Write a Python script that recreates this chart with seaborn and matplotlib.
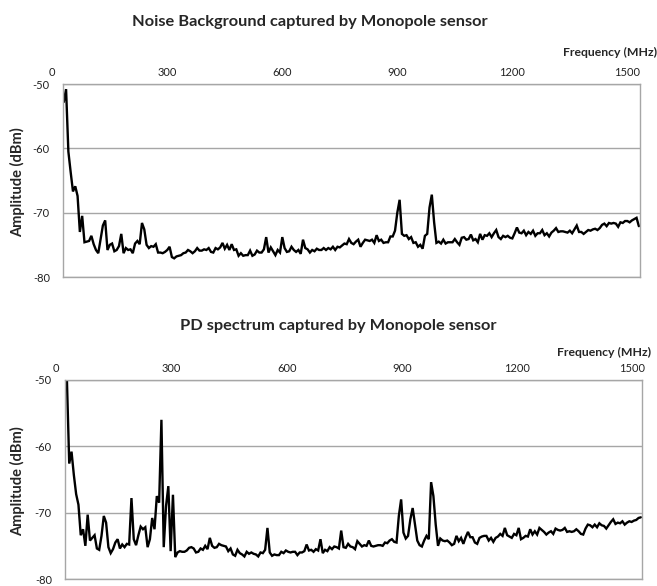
import numpy as np
import pandas as pd
import matplotlib
matplotlib.use("Agg")
import matplotlib.pyplot as plt
import matplotlib.transforms as mtransforms
import seaborn as sns

# Sweep settings (MHz)
noise_start_mhz = 30
pd_start_mhz = 28
step_mhz = 6

# Noise background sweep, amplitude in dBm
noise_dbm = [
    -52.8, -50.8, -60.5, -63.7, -66.7, -65.9, -67.4, -73.0, -70.5, -74.6,
    -74.5, -74.4, -73.6, -74.9, -75.8, -76.3, -74.2, -72.0, -71.2, -75.8,
    -75.0, -74.8, -76.0, -75.8, -75.2, -73.3, -76.3, -75.5, -75.8, -75.7,
    -76.3, -74.8, -74.4, -74.9, -71.6, -72.6, -75.0, -75.5, -75.2, -75.3,
    -74.9, -76.2, -76.2, -76.3, -76.1, -75.8, -75.3, -76.9, -77.1, -76.8,
    -76.7, -76.6, -76.3, -76.2, -75.8, -76.0, -76.3, -76.0, -75.5, -75.9,
    -75.9, -75.7, -75.8, -75.5, -76.1, -76.2, -75.5, -75.7, -75.4, -74.7,
    -75.6, -75.0, -75.8, -74.9, -75.8, -75.7, -76.7, -76.3, -76.7, -76.6,
    -76.6, -75.9, -76.7, -76.5, -75.9, -76.2,
    -76.2, -75.7, -73.8, -76.2, -75.4, -76.0, -76.6, -75.8, -76.2, -73.8,
    -75.5, -76.1, -76.0, -75.3, -75.8, -76.1, -75.8, -76.4, -74.2, -75.5,
    -75.7, -76.2, -75.8, -76.0, -75.6, -75.8, -75.8, -75.5, -75.8, -75.5,
    -75.7, -75.3, -75.8, -75.3, -75.4, -75.1, -74.8, -74.9, -74.1, -74.7,
    -74.9, -74.5, -74.2, -75.3, -74.7, -74.2, -74.3, -74.4, -74.2, -74.7,
    -73.5, -74.4, -74.2, -74.7, -74.6, -74.6, -73.7, -73.7, -72.8, -70.0,
    -68.0, -73.3, -73.6, -73.5, -74.1, -73.8, -74.7, -74.6, -75.3, -75.0,
    -75.6, -73.6, -73.3, -69.2, -67.2, -71.5, -74.7, -74.5, -74.8, -74.2,
    -74.8, -74.6, -74.6, -74.6,
    -74.1, -74.6, -75.0, -73.9, -73.8, -74.2, -74.1, -73.4, -74.3, -74.1,
    -74.6, -73.3, -74.2, -73.5, -73.6, -73.2, -73.8, -73.2, -72.7, -73.8,
    -74.1, -73.6, -73.8, -73.6, -73.9, -74.0, -73.2, -72.3, -73.1, -73.2,
    -72.8, -73.5, -73.0, -73.3, -72.8, -73.6, -73.2, -73.2, -72.7, -73.5,
    -73.2, -73.7, -73.1, -72.8, -72.4, -73.0, -72.9, -72.9, -73.0, -73.1,
    -72.8, -73.2, -72.6, -72.0, -73.0, -73.0, -73.3, -73.0, -72.7, -72.8,
    -72.6, -72.5, -72.7, -72.4, -71.9, -71.7, -72.1, -71.6, -71.7, -71.6,
    -71.7, -72.2, -71.5, -71.6, -71.3, -71.3, -71.5, -71.2, -71.0, -70.8,
    -72.1,
]

# PD spectrum sweep, amplitude in dBm
pd_dbm = [
    -50.0, -62.6, -60.8, -64.3, -67.2, -68.8, -73.4, -72.5, -75.0, -70.3,
    -74.2, -73.8, -73.4, -75.4, -75.6, -73.5, -70.5, -71.5, -75.2, -76.1,
    -75.5, -74.5, -74.0, -75.4, -74.8, -75.2, -74.7, -74.8, -67.8, -74.0,
    -74.9, -73.4, -72.1, -72.5, -72.2, -75.2, -74.0, -70.8, -72.5, -67.5,
    -68.5, -56.0, -75.2, -69.0, -66.0, -75.8, -67.3, -76.7, -76.0, -75.8,
    -75.9, -75.9, -75.7, -75.3, -75.2, -75.4, -76.0, -75.9, -75.4, -75.6,
    -75.0, -75.5, -73.8, -75.0, -75.3, -75.2, -74.7, -74.9, -75.0, -75.1,
    -75.8, -75.4, -76.3, -76.5, -75.6, -76.1, -76.3, -76.6, -75.9, -76.2,
    -76.0, -76.2, -76.3, -76.6,
    -76.0, -76.1, -75.6, -72.3, -76.0, -76.5, -76.3, -76.4, -76.4, -75.9,
    -76.1, -75.7, -75.9, -76.0, -75.9, -75.9, -76.4, -76.0, -76.0, -75.8,
    -74.8, -75.7, -75.6, -75.9, -75.5, -75.7, -74.0, -76.1, -75.6, -75.8,
    -75.2, -75.5, -75.1, -75.2, -75.4, -72.7, -75.2, -75.3, -74.7, -75.1,
    -75.2, -75.5, -74.3, -74.7, -75.1, -74.9, -75.0, -74.2, -75.0, -75.1,
    -75.0, -74.9, -74.9, -75.0, -74.5, -74.6, -74.2, -74.0, -74.4, -74.5,
    -70.5, -68.0, -73.0, -73.9, -73.5, -71.0, -69.3, -71.8, -74.2, -74.9,
    -75.1, -74.2, -73.5, -74.0, -65.4, -67.5, -71.8, -75.0, -73.9, -74.2,
    -74.3, -74.2, -74.5, -74.9, -74.7,
    -73.5, -74.3, -73.8, -74.7, -73.7, -72.9, -73.7, -73.7, -74.5, -74.7,
    -73.8, -73.6, -73.5, -73.5, -74.2, -73.8, -74.4, -73.8, -73.6, -73.2,
    -73.5, -72.3, -73.4, -73.6, -73.8, -73.2, -73.4, -72.3, -74.0, -73.8,
    -73.5, -73.6, -72.5, -73.3, -72.8, -73.3, -72.3, -72.6, -72.9, -73.3,
    -73.0, -72.8, -73.2, -72.4, -72.6, -72.7, -72.6, -72.3, -72.9, -72.8,
    -72.9, -72.8, -72.5, -72.8, -73.2, -73.3, -72.4, -71.8, -71.9, -72.2,
    -71.8, -72.2, -71.6, -71.9, -72.0, -72.4, -71.9, -71.4, -71.0, -71.7,
    -71.5, -71.6, -71.3, -71.8, -71.5, -71.3, -71.4, -71.2, -71.1, -70.8,
    -70.7,
]

freq_ticks = [0, 300, 600, 900, 1200, 1500]
amp_ticks = [-50, -60, -70, -80]

titles = ["Noise Background captured by Monopole sensor",
          "PD spectrum captured by Monopole sensor"]
x_label = "Frequency (MHz)"
y_label = "Amplitude (dBm)"

sns.set_theme(style="white")
plt.rcParams["font.family"] = ["Lato", "DejaVu Sans"]
plt.rcParams["axes.unicode_minus"] = False

W, H = 657, 586
fig = plt.figure(figsize=(W / 100, H / 100), dpi=100)


def fx(px):
    return px / W


def fy(py):
    return 1 - py / H


grid_col = "#a6a6a6"

panels = [
    dict(start=noise_start_mhz, amp=noise_dbm, box=(63, 84, 640, 277),
         xlim=(28, 1533), title_xy=(310, 22), xlab_xy=(563, 52),
         tick_y=72, ylab_y=182),
    dict(start=pd_start_mhz, amp=pd_dbm, box=(65, 380, 642, 579),
         xlim=(23, 1525), title_xy=(338, 326), xlab_xy=(557, 352),
         tick_y=368, ylab_y=481),
]

for panel, title in zip(panels, titles):
    l, t, r, b = panel["box"]
    ax = fig.add_axes([fx(l), fy(b), fx(r) - fx(l), fy(t) - fy(b)])
    amp = np.asarray(panel["amp"])
    freq = panel["start"] + step_mhz * np.arange(len(amp))
    df = pd.DataFrame({x_label: freq, y_label: amp})
    sns.lineplot(data=df, x=x_label, y=y_label, ax=ax, color="black",
                 linewidth=1.7, solid_joinstyle="miter")

    ax.set_xlim(*panel["xlim"])
    ax.set_ylim(-80, -50)
    ax.set_xticks([])
    ax.set_yticks(amp_ticks)
    ax.set_yticklabels([str(v) for v in amp_ticks])
    ax.tick_params(axis="y", length=0, pad=9.5, labelsize=8, labelcolor="#222222")
    ax.yaxis.grid(True, color=grid_col, linewidth=1)
    ax.set_axisbelow(True)
    ax.set_xlabel("")
    ax.set_ylabel("")
    for sp in ax.spines.values():
        sp.set_color(grid_col)
        sp.set_linewidth(1)

    # Frequency labels along the top edge
    trans = mtransforms.blended_transform_factory(ax.transData, fig.transFigure)
    for f in freq_ticks:
        ax.text(f, fy(panel["tick_y"]), str(f), transform=trans, ha="center",
                va="center", fontsize=8, color="#222222", clip_on=False)

    fig.text(fx(panel["title_xy"][0]), fy(panel["title_xy"][1]), title,
             ha="center", va="center", fontsize=11.8, fontweight="bold")
    fig.text(fx(panel["xlab_xy"][0]), fy(panel["xlab_xy"][1]), x_label,
             ha="left", va="center", fontsize=8.8, fontweight="bold")
    fig.text(fx(18), fy(panel["ylab_y"]), y_label, rotation=90,
             ha="center", va="center", fontsize=10.5, fontweight="bold")

fig.savefig("out.png", dpi=100)
